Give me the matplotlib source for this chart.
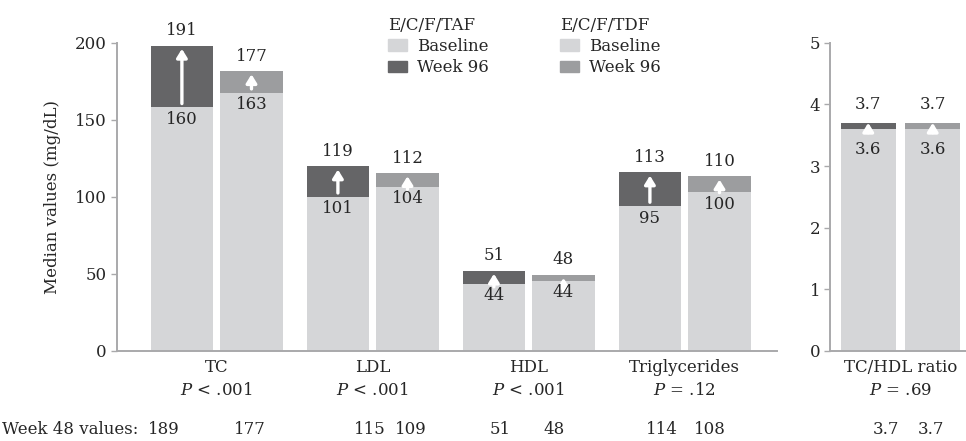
import matplotlib
matplotlib.use("Agg")
import matplotlib.pyplot as plt
from matplotlib.patches import Patch
from matplotlib.transforms import blended_transform_factory

plt.rcParams['font.family'] = ['DejaVu Serif']
plt.rcParams['mathtext.fontset'] = 'custom'
plt.rcParams['mathtext.rm'] = 'DejaVu Serif'
plt.rcParams['mathtext.it'] = 'DejaVu Serif:italic'

# lipid panel (mg/dL)
categories = ["TC", "LDL", "HDL", "Triglycerides"]
p_values = ["< .001", "< .001", "< .001", "= .12"]
# bar heights as drawn in the figure
taf_base = [158, 100, 43.5, 94]
taf_wk96 = [198, 119.7, 52.1, 115.8]
tdf_base = [167.5, 106.7, 45.5, 103]
tdf_wk96 = [181.5, 115.4, 49.4, 113.2]
# printed numbers
taf_base_lbl = ["160", "101", "44", "95"]
taf_wk96_lbl = ["191", "119", "51", "113"]
tdf_base_lbl = ["163", "104", "44", "100"]
tdf_wk96_lbl = ["177", "112", "48", "110"]
taf_wk48 = ["189", "115", "51", "114"]
tdf_wk48 = ["177", "109", "48", "108"]

# ratio panel
ratio_cat = "TC/HDL ratio"
ratio_p = "= .69"
ratio_taf = [3.6, 3.7]
ratio_tdf = [3.6, 3.7]
ratio_taf_lbl = ["3.6", "3.7"]
ratio_tdf_lbl = ["3.6", "3.7"]
ratio_wk48 = ["3.7", "3.7"]

c_base = "#d5d6d8"
c_taf = "#656567"
c_tdf = "#9c9d9f"
c_txt = "#262626"
c_axis = "#a9a9ab"
fs = 12

fig = plt.figure(figsize=(9.66, 4.41), dpi=100)
ax1 = fig.add_axes([0.1208, 0.2041, 0.6836, 0.6991])
ax2 = fig.add_axes([0.8592, 0.2041, 0.1408, 0.6991])

def style(ax):
    for s in ["top", "right"]:
        ax.spines[s].set_visible(False)
    for s in ["left", "bottom"]:
        ax.spines[s].set_color(c_axis)
        ax.spines[s].set_linewidth(1.4)
    ax.tick_params(axis="y", length=4, width=1, color=c_axis, labelcolor=c_txt,
                   labelsize=fs, pad=3)
    ax.tick_params(axis="x", length=0, labelcolor=c_txt, labelsize=fs, pad=6)

def draw_pair(ax, x, base, top, base_lbl, top_lbl, color, width, gap, minlen, pad, off_up, off_dn):
    ax.bar(x, base, width, color=c_base, zorder=2)
    ax.bar(x, top - base, width, bottom=base, color=color, zorder=2)
    y0 = min(base + gap, top - minlen)
    ax.annotate("", xy=(x, top - pad), xytext=(x, y0),
                arrowprops=dict(arrowstyle="-|>,head_length=0.42,head_width=0.26",
                                color="white", lw=2.4, shrinkA=0, shrinkB=0),
                fontsize=fs, zorder=3)
    ax.annotate(top_lbl, (x, top), xytext=(0, off_up), textcoords="offset points",
                ha="center", va="center", fontsize=fs, color=c_txt)
    ax.annotate(base_lbl, (x, base), xytext=(0, off_dn), textcoords="offset points",
                ha="center", va="center", fontsize=fs, color=c_txt, zorder=4)

# left panel
w1, d1 = 0.40, 0.223
for i in range(len(categories)):
    draw_pair(ax1, i - d1, taf_base[i], taf_wk96[i], taf_base_lbl[i], taf_wk96_lbl[i],
              c_taf, w1, 2.5, 10.5, 2, 10.8, -8.6)
    draw_pair(ax1, i + d1, tdf_base[i], tdf_wk96[i], tdf_base_lbl[i], tdf_wk96_lbl[i],
              c_tdf, w1, 2.5, 10.5, 2, 10.8, -8.6)

style(ax1)
ax1.set_xlim(-0.641, 3.592)
ax1.set_ylim(0, 200)
ax1.set_yticks([0, 50, 100, 150, 200])
ax1.set_xticks(range(len(categories)))
ax1.set_xticklabels([f"{c}\n$\\mathit{{P}}$ {p}" for c, p in zip(categories, p_values)],
                    linespacing=1.45)
ax1.set_ylabel("Median values (mg/dL)", fontsize=fs, color=c_txt)
ax1.yaxis.set_label_coords(-0.084, 0.5)

# right panel
w2, d2 = 0.55, 0.325
draw_pair(ax2, -d2, ratio_taf[0], ratio_taf[1], ratio_taf_lbl[0], ratio_taf_lbl[1],
          c_taf, w2, 0.03, 0.16, 0.0, 13, -15)
draw_pair(ax2, d2, ratio_tdf[0], ratio_tdf[1], ratio_tdf_lbl[0], ratio_tdf_lbl[1],
          c_tdf, w2, 0.03, 0.16, 0.0, 13, -15)
style(ax2)
ax2.set_xlim(-0.711, 0.661)
ax2.set_ylim(0, 5)
ax2.set_yticks(range(6))
ax2.set_xticks([0])
ax2.set_xticklabels([f"{ratio_cat}\n$\\mathit{{P}}$ {ratio_p}"], linespacing=1.45)

# legends
for x0, title, col in [(0.4016, "E/C/F/TAF", c_taf), (0.5797, "E/C/F/TDF", c_tdf)]:
    lg = fig.legend(handles=[Patch(color=c_base, label="Baseline"), Patch(color=col, label="Week 96")],
                    title=title, loc="upper left", bbox_to_anchor=(x0, 0.962),
                    frameon=False, fontsize=fs, title_fontsize=fs, alignment="left",
                    handlelength=1.15, handleheight=0.7, handletextpad=0.6,
                    labelspacing=0.26, borderpad=0, borderaxespad=0)
    plt.setp(lg.get_texts(), color=c_txt)
    lg.get_title().set_color(c_txt)

# week 48 row
y48 = 0.025
fig.text(0.002, y48, "Week 48 values:", fontsize=fs, color=c_txt, va="center")
tr1 = blended_transform_factory(ax1.transData, fig.transFigure)
dx_taf = [-0.338, -0.017, -0.184, -0.145]
dx_tdf = [0.213, 0.245, 0.162, 0.162]
for i in range(len(categories)):
    fig.text(i + dx_taf[i], y48, taf_wk48[i], transform=tr1, ha="center", va="center",
             fontsize=fs, color=c_txt)
    fig.text(i + dx_tdf[i], y48, tdf_wk48[i], transform=tr1, ha="center", va="center",
             fontsize=fs, color=c_txt)
tr2 = blended_transform_factory(ax2.transData, fig.transFigure)
for dx, v in zip([-0.146, 0.308], ratio_wk48):
    fig.text(dx, y48, v, transform=tr2, ha="center", va="center", fontsize=fs, color=c_txt)

fig.savefig("out.png", dpi=100)
